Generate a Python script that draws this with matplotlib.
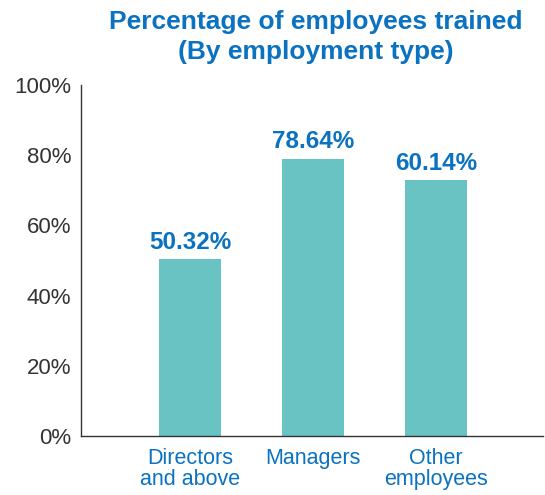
import numpy as np
import matplotlib.pyplot as plt

plt.rcParams['font.family'] = ['Liberation Sans', 'DejaVu Sans']

# data
categories = ["Directors\nand above", "Managers", "Other\nemployees"]
heights = [50.4, 78.9, 72.9]           # bar heights as drawn
labels = ["50.32%", "78.64%", "60.14%"]  # printed values
yticks = [0, 20, 40, 60, 80, 100]

teal = '#69c3c3'
blue = '#0a72c0'
grey = '#333333'

fig = plt.figure(figsize=(5.45, 4.95), dpi=100)
ax = fig.add_axes([0.1486, 0.1192, 0.8477, 0.7091])

x = np.arange(len(categories))
bars = ax.bar(x, heights, width=0.5, color=teal, zorder=2)

for b, lab in zip(bars, labels):
    ax.annotate(lab, (b.get_x() + b.get_width() / 2, b.get_height()),
                xytext=(0, 4), textcoords='offset points',
                ha='center', va='bottom', fontsize=17.5, fontweight='bold',
                color=blue)

ax.set_xlim(-0.886, 2.87)
ax.set_ylim(0, 100)
ax.set_yticks(yticks)
ax.set_yticklabels([f"{t}%" for t in yticks], fontsize=16, color=grey)
ax.set_xticks(x)
ax.set_xticklabels(categories, fontsize=15.5, color=blue, linespacing=1.0)
ax.tick_params(axis='both', length=0)
ax.tick_params(axis='y', pad=7)
ax.tick_params(axis='x', pad=9)

for s in ['top', 'right']:
    ax.spines[s].set_visible(False)
for s in ['left', 'bottom']:
    ax.spines[s].set_color(grey)
    ax.spines[s].set_linewidth(1.0)

fig.text(0.58, 0.98, "Percentage of employees trained\n(By employment type)",
         ha='center', va='top', fontsize=19, fontweight='bold', color=blue,
         linespacing=1.3)

fig.savefig('out.png', dpi=100)
